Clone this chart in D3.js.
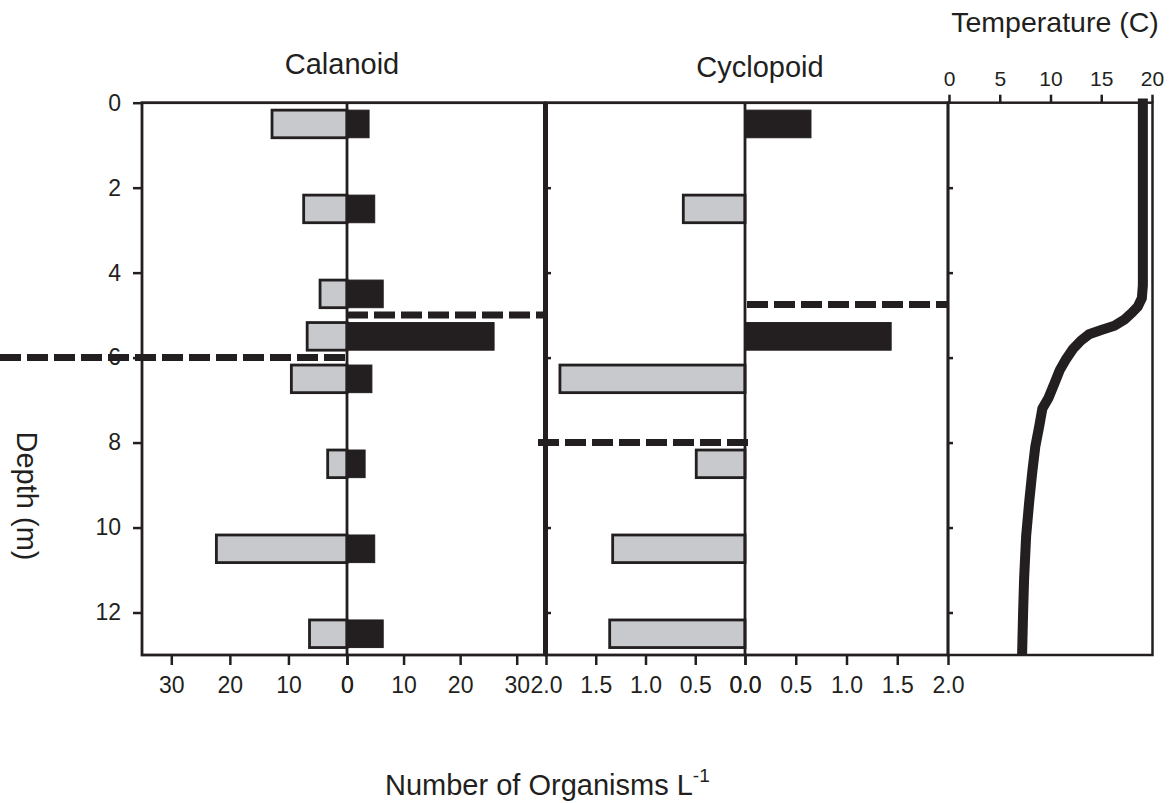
<!DOCTYPE html>
<html>
<head>
<meta charset="utf-8">
<script src="https://cdn.jsdelivr.net/npm/d3@7"></script>
<style>
  body { margin: 0; background: #fff; }
  text { font-family: "Liberation Sans", Arial, sans-serif; fill: #231f20; }
  .axis path { display: none; }
  .axis line { stroke: #231f20; stroke-width: 2.5; }
  .axis text { font-size: 23px; }
</style>
</head>
<body>
<svg id="svg" width="1170" height="803"></svg>
<script>
// depth bins (m), midpoints
var depths = [0.5, 2.5, 4.5, 5.5, 6.5, 8.5, 10.5, 12.5];
var calanoidGrey  = [12.8, 7.4, 4.6, 6.8, 9.5, 3.3, 22.3, 6.4];
var calanoidBlack = [3.9, 4.9, 6.4, 26, 4.4, 3.2, 4.9, 6.4];
var cyclopoidGrey  = [0, 0.62, 0, 0, 1.86, 0.49, 1.33, 1.36];
var cyclopoidBlack = [0.65, 0, 0, 1.44, 0, 0, 0, 0];

// dashed reference depths per half-panel
var dashCalLeft = 6.0, dashCalRight = 5.0, dashCycLeft = 8.0, dashCycRight = 4.75;

// temperature profile
var profDepth = [-0.1, 4.3, 4.6, 4.8, 4.95, 5.1, 5.25, 5.35, 5.45, 5.6, 5.8, 6.05, 6.3, 6.6, 6.95, 7.2, 7.6, 8.1, 8.7, 9.4, 10.2, 11.2, 12.0, 13];
var profTemp  = [19.1, 19.1, 19.0, 18.6, 18.0, 17.3, 16.3, 15.0, 13.8, 13.0, 12.2, 11.5, 10.9, 10.4, 9.8, 9.2, 8.9, 8.5, 8.2, 7.9, 7.6, 7.4, 7.3, 7.2];

var depthTicks = [0, 2, 4, 6, 8, 10, 12];
var calTicks = [0, 10, 20, 30];
var cycTicks = [0, 0.5, 1, 1.5, 2];
var tempTicks = [0, 5, 10, 15, 20];

var ink = "#231f20", grey = "#c8c9cc";
var svg = d3.select("#svg");

var y = d3.scaleLinear().domain([0, 13]).range([102.7, 655]);
var calL = d3.scaleLinear().domain([35, 0]).range([142, 347]);
var calR = d3.scaleLinear().domain([0, 35]).range([347, 545]);
var cycL = d3.scaleLinear().domain([2, 0]).range([546, 745]);
var cycR = d3.scaleLinear().domain([0, 2]).range([745, 948]);
var tx = d3.scaleLinear().domain([0, 20]).range([949, 1152]);

var barH = y(0.65) - y(0);

function bars(data, scale, fill) {
  var z = scale(0);
  svg.append("g").selectAll("rect")
    .data(data.map(function(v, i) { return {v: v, d: depths[i]}; }).filter(function(o) { return o.v > 0; }))
    .enter().append("rect")
      .attr("x", function(o) { return Math.min(z, scale(o.v)); })
      .attr("width", function(o) { return Math.abs(scale(o.v) - z); })
      .attr("y", function(o) { return y(o.d) - barH / 2; })
      .attr("height", barH)
      .attr("fill", fill)
      .attr("stroke", ink)
      .attr("stroke-width", fill == grey ? 2.8 : 1);
}

bars(calanoidGrey, calL, grey);
bars(calanoidBlack, calR, ink);
bars(cyclopoidGrey, cycL, grey);
bars(cyclopoidBlack, cycR, ink);

// frames
function frame(x0, x1, w) {
  svg.append("rect")
    .attr("x", x0).attr("y", y(0))
    .attr("width", x1 - x0).attr("height", y(13) - y(0))
    .attr("fill", "none").attr("stroke", ink).attr("stroke-width", w);
}
frame(142, 545, 2.8);
frame(546, 948, 2.8);
frame(948, 1152.5, 2.5);
svg.append("line").attr("x1", 545.5).attr("x2", 545.5).attr("y1", y(0)).attr("y2", y(13))
  .attr("stroke", ink).attr("stroke-width", 5);
[calR(0), cycR(0)].forEach(function(x) {
  svg.append("line").attr("x1", x).attr("x2", x).attr("y1", y(0)).attr("y2", y(13))
    .attr("stroke", ink).attr("stroke-width", 2.8);
});

// dashed lines
function dash(x0, x1, d) {
  svg.append("line").attr("x1", x0).attr("x2", x1).attr("y1", y(d)).attr("y2", y(d))
    .attr("stroke", ink).attr("stroke-width", 7).attr("stroke-dasharray", "21,6");
}
dash(0, calL(0), dashCalLeft);
dash(calR(0), 548, dashCalRight);
dash(538, cycL(0) + 3, dashCycLeft);
dash(cycR(0) + 2, 948, dashCycRight);

// temperature profile
var line = d3.line()
  .x(function(d) { return tx(d[1]); })
  .y(function(d) { return y(d[0]); });
svg.append("path")
  .datum(profDepth.map(function(d, i) { return [d, profTemp[i]]; }))
  .attr("d", line)
  .attr("fill", "none").attr("stroke", ink).attr("stroke-width", 10)
  .attr("stroke-linejoin", "miter");

// axes
svg.append("g").attr("class", "axis")
  .attr("transform", "translate(142,0)")
  .call(d3.axisLeft(y).tickValues(depthTicks).tickSize(9).tickPadding(12));

// inner depth ticks on cyclopoid and temperature panels
[546, 948].forEach(function(x) {
  svg.append("g").attr("class", "axis")
    .attr("transform", "translate(" + x + ",0)")
    .call(d3.axisRight(y).tickValues(depthTicks.slice(1)).tickSize(5).tickFormat(""));
});

var bottoms = [
  [calL, calTicks, d3.format("d")],
  [calR, calTicks, d3.format("d")],
  [cycL, cycTicks, d3.format(".1f")],
  [cycR, cycTicks, d3.format(".1f")]
];
bottoms.forEach(function(b) {
  svg.append("g").attr("class", "axis")
    .attr("transform", "translate(0," + y(13) + ")")
    .call(d3.axisBottom(b[0]).tickValues(b[1]).tickSize(10).tickPadding(12).tickFormat(b[2]));
});

svg.append("g").attr("class", "axis temp")
  .attr("transform", "translate(0," + y(0) + ")")
  .call(d3.axisTop(tx).tickValues(tempTicks).tickSize(8).tickPadding(9))
  .selectAll("text").style("font-size", "21px");

// titles
svg.append("text").attr("x", 342).attr("y", 74).attr("text-anchor", "middle")
  .style("font-size", "29px").text("Calanoid");
svg.append("text").attr("x", 760).attr("y", 77).attr("text-anchor", "middle")
  .style("font-size", "29px").text("Cyclopoid");
svg.append("text").attr("x", 1055).attr("y", 32).attr("text-anchor", "middle")
  .style("font-size", "28.5px").text("Temperature (C)");
svg.append("text").attr("transform", "translate(17,496) rotate(90)").attr("text-anchor", "middle")
  .style("font-size", "29px").text("Depth (m)");

var xt = svg.append("text").attr("x", 385).attr("y", 795).style("font-size", "29px");
xt.append("tspan").text("Number of Organisms L");
xt.append("tspan").attr("dy", -13).style("font-size", "19px").text("-1");
</script>
</body>
</html>
